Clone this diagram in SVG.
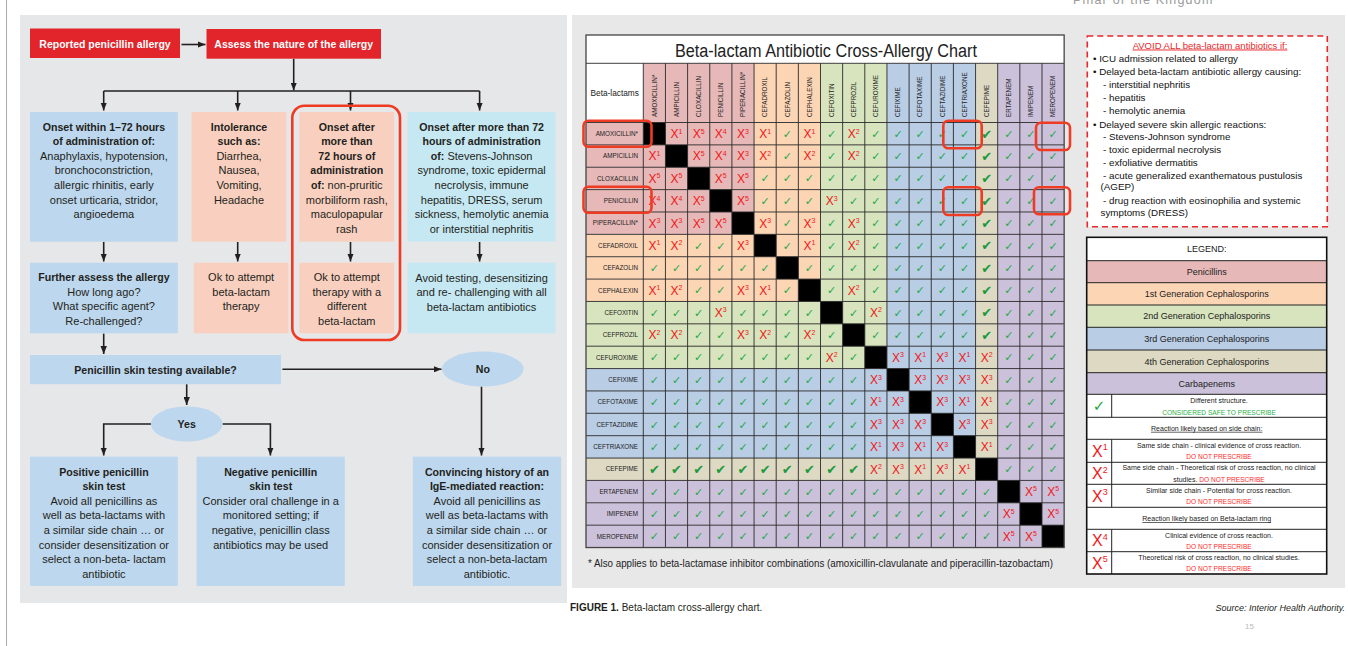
<svg xmlns="http://www.w3.org/2000/svg" width="1348" height="646" viewBox="0 0 1348 646">
<defs>
<marker id="ah" viewBox="0 0 10 8" refX="10" refY="4" markerWidth="8" markerHeight="6.4" markerUnits="userSpaceOnUse" orient="auto"><path d="M0,0 L10,4 L0,8 z" fill="#231f20"/></marker>
<style>
.ft{font-family:"Liberation Sans",Arial,sans-serif;font-size:11px;fill:#231f20;text-anchor:middle}
.b{font-weight:bold;font-size:10.6px}
.wt{font-family:"Liberation Sans",Arial,sans-serif;font-size:10.5px;font-weight:bold;fill:#fff;text-anchor:middle}
.bl{fill:#bdd7ee}.pe{fill:#f9d0bf}.cy{fill:#c6e8f2}.rd{fill:#e1252b}
.cn{fill:none;stroke:#231f20;stroke-width:1.6}
.hl{fill:none;stroke:#ef3b24;stroke-width:2.6}
.p{fill:#e6b9b8}.c1{fill:#fcd5b5}.c2{fill:#d7e4bd}.c3{fill:#b9cde5}.c4{fill:#ddd9c3}.cb{fill:#ccc1da}
.lab{font-family:"Liberation Sans",Arial,sans-serif;font-size:6.3px;fill:#222}
.rl{text-anchor:end}
.ck{font-family:"DejaVu Sans",sans-serif;font-size:11px;fill:#22a84a;text-anchor:middle}
.ck2{font-family:"DejaVu Sans",sans-serif;font-size:13px;fill:#1b9a3d;text-anchor:middle}
.xx{font-family:"Liberation Sans",Arial,sans-serif;font-size:12px;fill:#f01818;text-anchor:middle}
.s{font-size:7px}
.av{font-family:"Liberation Sans",Arial,sans-serif;font-size:9.8px;fill:#111}
.lg{font-family:"Liberation Sans",Arial,sans-serif;font-size:9px;fill:#222;text-anchor:middle}
.sm{font-family:"Liberation Sans",Arial,sans-serif;font-size:7px;fill:#222;text-anchor:middle}
.dn{fill:#ff2a2a;font-size:6.6px}
.lx{font-family:"Liberation Sans",Arial,sans-serif;font-size:16px;fill:#f01818}
</style>
</defs>
<rect width="1348" height="646" fill="#fff"/>
<line x1="6.5" y1="0" x2="6.5" y2="646" stroke="#aaa" stroke-width="1"/>
<text x="1073" y="3.5" font-family="Liberation Sans, Arial, sans-serif" font-size="12.5" letter-spacing="1.2" fill="#9a9a9a">Pillar of the Kingdom</text>

<!-- LEFT PANEL -->
<rect x="20" y="15" width="547" height="588" fill="#e6e7e8"/>

<g id="connectors" class="cn">
<line x1="181.5" y1="44.5" x2="205.5" y2="44.5" marker-end="url(#ah)"/>
<line x1="293.7" y1="58.7" x2="293.7" y2="90.5" marker-end="url(#ah)"/>
<line x1="103.7" y1="91" x2="479.6" y2="91"/>
<line x1="103.7" y1="91" x2="103.7" y2="110.5" marker-end="url(#ah)"/>
<line x1="237.7" y1="91" x2="237.7" y2="110.5" marker-end="url(#ah)"/>
<line x1="350.5" y1="91" x2="350.5" y2="110.5" marker-end="url(#ah)"/>
<line x1="479.6" y1="91" x2="479.6" y2="110.5" marker-end="url(#ah)"/>
<line x1="103.7" y1="242" x2="103.7" y2="261.5" marker-end="url(#ah)"/>
<line x1="237.7" y1="242" x2="237.7" y2="261.5" marker-end="url(#ah)"/>
<line x1="350.5" y1="242" x2="350.5" y2="261.5" marker-end="url(#ah)"/>
<line x1="479.6" y1="242" x2="479.6" y2="261.5" marker-end="url(#ah)"/>
<line x1="103.7" y1="333.5" x2="103.7" y2="354" marker-end="url(#ah)"/>
<line x1="282.4" y1="369.3" x2="441.5" y2="369.3" marker-end="url(#ah)"/>
<line x1="186.7" y1="384.2" x2="186.7" y2="405" marker-end="url(#ah)"/>
<line x1="481.5" y1="386.5" x2="481.5" y2="455.5" marker-end="url(#ah)"/>
<path d="M151,424 H103.7 V455.5" marker-end="url(#ah)"/>
<path d="M222.5,424 H270.4 V455.5" marker-end="url(#ah)"/>
</g>

<g id="n-reported"><rect class="rd" x="30" y="28.5" width="150" height="29.5"/><text class="wt" x="105" y="47.8">Reported penicillin allergy</text></g>
<g id="n-assess"><rect class="rd" x="206.5" y="29" width="174.5" height="29.7"/><text class="wt" x="293.7" y="47.8">Assess the nature of the allergy</text></g>

<g id="n-onset-early"><rect class="bl" x="30" y="112" width="147.8" height="129.7"/>
<text class="ft"><tspan class="b" x="103.9" y="130.5">Onset within 1–72 hours</tspan><tspan class="b" x="103.9" y="145.1">of administration of:</tspan><tspan x="103.9" y="159.7">Anaphylaxis, hypotension,</tspan><tspan x="103.9" y="174.3">bronchoconstriction,</tspan><tspan x="103.9" y="188.9">allergic rhinitis, early</tspan><tspan x="103.9" y="203.5">onset urticaria, stridor,</tspan><tspan x="103.9" y="218.1">angioedema</tspan></text></g>

<g id="n-intolerance"><rect class="pe" x="191.6" y="112" width="94.7" height="129.7"/>
<text class="ft"><tspan class="b" x="239" y="130.5">Intolerance</tspan><tspan class="b" x="239" y="145.1">such as:</tspan><tspan x="239" y="159.7">Diarrhea,</tspan><tspan x="239" y="174.3">Nausea,</tspan><tspan x="239" y="188.9">Vomiting,</tspan><tspan x="239" y="203.5">Headache</tspan></text></g>

<g id="n-onset-72"><rect class="pe" x="299.4" y="112" width="94.7" height="129.7"/>
<text class="ft"><tspan class="b" x="346.8" y="130.5">Onset after</tspan><tspan class="b" x="346.8" y="145.1">more than</tspan><tspan class="b" x="346.8" y="159.7">72 hours of</tspan><tspan class="b" x="346.8" y="174.3">administration</tspan><tspan x="346.8" y="188.9"><tspan class="b">of:</tspan> non-pruritic</tspan><tspan x="346.8" y="203.5">morbiliform rash,</tspan><tspan x="346.8" y="218.1">maculopapular</tspan><tspan x="346.8" y="232.7">rash</tspan></text></g>

<g id="n-onset-severe"><rect class="cy" x="407.6" y="112" width="147.9" height="129.7"/>
<text class="ft"><tspan class="b" x="481.6" y="130.5">Onset after more than 72</tspan><tspan class="b" x="481.6" y="145.1">hours of administration</tspan><tspan x="481.6" y="159.7"><tspan class="b">of:</tspan> Stevens-Johnson</tspan><tspan x="481.6" y="174.3">syndrome, toxic epidermal</tspan><tspan x="481.6" y="188.9">necrolysis, immune</tspan><tspan x="481.6" y="203.5">hepatitis, DRESS, serum</tspan><tspan x="481.6" y="218.1">sickness, hemolytic anemia</tspan><tspan x="481.6" y="232.7">or interstitial nephritis</tspan></text></g>

<g id="n-further"><rect class="bl" x="30" y="262.7" width="147.8" height="70.6"/>
<text class="ft"><tspan class="b" x="103.9" y="281.1">Further assess the allergy</tspan><tspan x="103.9" y="295.7">How long ago?</tspan><tspan x="103.9" y="310.3">What specific agent?</tspan><tspan x="103.9" y="324.9">Re-challenged?</tspan></text></g>

<g id="n-ok1"><rect class="pe" x="193.8" y="262.7" width="94.6" height="70.6"/>
<text class="ft"><tspan x="241.1" y="281.1">Ok to attempt</tspan><tspan x="241.1" y="295.7">beta-lactam</tspan><tspan x="241.1" y="310.3">therapy</tspan></text></g>

<g id="n-ok2"><rect class="pe" x="299.4" y="262.7" width="94.7" height="70.6"/>
<text class="ft"><tspan x="346.8" y="281.1">Ok to attempt</tspan><tspan x="346.8" y="295.7">therapy with a</tspan><tspan x="346.8" y="310.3">different</tspan><tspan x="346.8" y="324.9">beta-lactam</tspan></text></g>

<g id="n-avoid"><rect class="cy" x="407.6" y="262.7" width="147.9" height="70.6"/>
<text class="ft"><tspan x="481.6" y="281.8">Avoid testing, desensitizing</tspan><tspan x="481.6" y="296.4">and re- challenging with all</tspan><tspan x="481.6" y="311">beta-lactam antibiotics</tspan></text></g>

<rect class="hl" x="292.3" y="105.7" width="107.7" height="234.3" rx="12"/>

<g id="n-skintest"><rect class="bl" x="30" y="355" width="251" height="29.2"/><text class="ft b" x="155.5" y="374.4">Penicillin skin testing available?</text></g>
<g id="n-no"><ellipse class="bl" cx="482.8" cy="369" rx="40.8" ry="17.5"/><text class="ft b" x="482.8" y="372.8">No</text></g>
<g id="n-yes"><ellipse class="bl" cx="186.7" cy="424" rx="35.8" ry="17.5"/><text class="ft b" x="186.7" y="427.8">Yes</text></g>

<g id="n-positive"><rect class="bl" x="30" y="456.7" width="147.8" height="129.3"/>
<text class="ft"><tspan class="b" x="103.9" y="475.5">Positive penicillin</tspan><tspan class="b" x="103.9" y="490.1">skin test</tspan><tspan x="103.9" y="504.7">Avoid all penicillins as</tspan><tspan x="103.9" y="519.3">well as beta-lactams with</tspan><tspan x="103.9" y="533.9">a similar side chain … or</tspan><tspan x="103.9" y="548.5">consider desensitization or</tspan><tspan x="103.9" y="563.1">select a non-beta- lactam</tspan><tspan x="103.9" y="577.7">antibiotic</tspan></text></g>

<g id="n-negative"><rect class="bl" x="196.6" y="456.7" width="148.2" height="129.3"/>
<text class="ft"><tspan class="b" x="270.7" y="475.5">Negative penicillin</tspan><tspan class="b" x="270.7" y="490.1">skin test</tspan><tspan x="270.7" y="504.7">Consider oral challenge in a</tspan><tspan x="270.7" y="519.3">monitored setting; if</tspan><tspan x="270.7" y="533.9">negative, penicillin class</tspan><tspan x="270.7" y="548.5">antibiotics may be used</tspan></text></g>

<g id="n-convincing"><rect class="bl" x="412.9" y="456.7" width="148.2" height="129.3"/>
<text class="ft"><tspan class="b" x="487" y="475.5">Convincing history of an</tspan><tspan class="b" x="487" y="490.1">IgE-mediated reaction:</tspan><tspan x="487" y="504.7">Avoid all penicillins as</tspan><tspan x="487" y="519.3">well as beta-lactams with</tspan><tspan x="487" y="533.9">a similar side chain … or</tspan><tspan x="487" y="548.5">consider desensitization or</tspan><tspan x="487" y="563.1">select a non-beta-lactam</tspan><tspan x="487" y="577.7">antibiotic.</tspan></text></g>

<!-- RIGHT PANEL -->
<rect x="572" y="15" width="773" height="573" fill="#e8e8e9"/>

<g id="chart">
<rect x="586" y="35" width="478.15" height="512.53" fill="#fff"/>
<text x="675" y="56.8" font-family="Liberation Sans, Arial, sans-serif" font-size="18" fill="#222" textLength="302" lengthAdjust="spacingAndGlyphs">Beta-lactam Antibiotic Cross-Allergy Chart</text>
<rect class="p" x="643.3" y="63.3" width="110.75" height="484.23"/>
<rect class="c1" x="754.05" y="63.3" width="66.45" height="484.23"/>
<rect class="c2" x="820.5" y="63.3" width="66.45" height="484.23"/>
<rect class="c3" x="886.95" y="63.3" width="88.6" height="484.23"/>
<rect class="c4" x="975.55" y="63.3" width="22.15" height="484.23"/>
<rect class="cb" x="997.7" y="63.3" width="66.45" height="484.23"/>
<g>
<rect class="p" x="586" y="122.5" width="57.3" height="22.37"/>
<rect class="p" x="586" y="144.87" width="79.45" height="22.37"/>
<rect class="p" x="586" y="167.24" width="101.6" height="22.37"/>
<rect class="p" x="586" y="189.61" width="123.75" height="22.37"/>
<rect class="p" x="586" y="211.98" width="145.9" height="22.37"/>
<rect class="c1" x="586" y="234.35" width="168.05" height="22.37"/>
<rect class="c1" x="586" y="256.72" width="190.2" height="22.37"/>
<rect class="c1" x="586" y="279.09" width="212.35" height="22.37"/>
<rect class="c2" x="586" y="301.46" width="234.5" height="22.37"/>
<rect class="c2" x="586" y="323.83" width="256.65" height="22.37"/>
<rect class="c2" x="586" y="346.2" width="278.8" height="22.37"/>
<rect class="c3" x="586" y="368.57" width="300.95" height="22.37"/>
<rect class="c3" x="586" y="390.94" width="323.1" height="22.37"/>
<rect class="c3" x="586" y="413.31" width="345.25" height="22.37"/>
<rect class="c3" x="586" y="435.68" width="367.4" height="22.37"/>
<rect class="c4" x="586" y="458.05" width="389.55" height="22.37"/>
<rect class="cb" x="586" y="480.42" width="411.7" height="22.37"/>
<rect class="cb" x="586" y="502.79" width="433.85" height="22.37"/>
<rect class="cb" x="586" y="525.16" width="456" height="22.37"/>
</g>
<g fill="#000">
<rect x="643.3" y="122.5" width="22.15" height="22.37"/>
<rect x="665.45" y="144.87" width="22.15" height="22.37"/>
<rect x="687.6" y="167.24" width="22.15" height="22.37"/>
<rect x="709.75" y="189.61" width="22.15" height="22.37"/>
<rect x="731.9" y="211.98" width="22.15" height="22.37"/>
<rect x="754.05" y="234.35" width="22.15" height="22.37"/>
<rect x="776.2" y="256.72" width="22.15" height="22.37"/>
<rect x="798.35" y="279.09" width="22.15" height="22.37"/>
<rect x="820.5" y="301.46" width="22.15" height="22.37"/>
<rect x="842.65" y="323.83" width="22.15" height="22.37"/>
<rect x="864.8" y="346.2" width="22.15" height="22.37"/>
<rect x="886.95" y="368.57" width="22.15" height="22.37"/>
<rect x="909.1" y="390.94" width="22.15" height="22.37"/>
<rect x="931.25" y="413.31" width="22.15" height="22.37"/>
<rect x="953.4" y="435.68" width="22.15" height="22.37"/>
<rect x="975.55" y="458.05" width="22.15" height="22.37"/>
<rect x="997.7" y="480.42" width="22.15" height="22.37"/>
<rect x="1019.85" y="502.79" width="22.15" height="22.37"/>
<rect x="1042" y="525.16" width="22.15" height="22.37"/>
</g>
<path fill="none" stroke="#2a2a2a" stroke-width="0.9" d="M586,63.3H1064.15 M586,122.5H1064.15 M586,144.87H1064.15 M586,167.24H1064.15 M586,189.61H1064.15 M586,211.98H1064.15 M586,234.35H1064.15 M586,256.72H1064.15 M586,279.09H1064.15 M586,301.46H1064.15 M586,323.83H1064.15 M586,346.2H1064.15 M586,368.57H1064.15 M586,390.94H1064.15 M586,413.31H1064.15 M586,435.68H1064.15 M586,458.05H1064.15 M586,480.42H1064.15 M586,502.79H1064.15 M586,525.16H1064.15 M643.3,63.3V547.53 M665.45,63.3V547.53 M687.6,63.3V547.53 M709.75,63.3V547.53 M731.9,63.3V547.53 M754.05,63.3V547.53 M776.2,63.3V547.53 M798.35,63.3V547.53 M820.5,63.3V547.53 M842.65,63.3V547.53 M864.8,63.3V547.53 M886.95,63.3V547.53 M909.1,63.3V547.53 M931.25,63.3V547.53 M953.4,63.3V547.53 M975.55,63.3V547.53 M997.7,63.3V547.53 M1019.85,63.3V547.53 M1042,63.3V547.53"/>
<rect x="586" y="35" width="478.15" height="512.53" fill="none" stroke="#444" stroke-width="1.3"/>
<text x="614.7" y="96.3" font-family="Liberation Sans, Arial, sans-serif" font-size="8.3" fill="#222" text-anchor="middle">Beta-lactams</text>
<g class="lab">
<text transform="rotate(-90 656.6 117)" x="656.6" y="117">AMOXICILLIN*</text>
<text transform="rotate(-90 678.7 117)" x="678.7" y="117">AMPICILLIN</text>
<text transform="rotate(-90 700.9 117)" x="700.9" y="117">CLOXACILLIN</text>
<text transform="rotate(-90 723 117)" x="723" y="117">PENICILLIN</text>
<text transform="rotate(-90 745.2 117)" x="745.2" y="117">PIPERACILLIN*</text>
<text transform="rotate(-90 767.3 117)" x="767.3" y="117">CEFADROXIL</text>
<text transform="rotate(-90 789.5 117)" x="789.5" y="117">CEFAZOLIN</text>
<text transform="rotate(-90 811.6 117)" x="811.6" y="117">CEPHALEXIN</text>
<text transform="rotate(-90 833.8 117)" x="833.8" y="117">CEFOXITIN</text>
<text transform="rotate(-90 855.9 117)" x="855.9" y="117">CEFPROZIL</text>
<text transform="rotate(-90 878.1 117)" x="878.1" y="117">CEFUROXIME</text>
<text transform="rotate(-90 900.2 117)" x="900.2" y="117">CEFIXIME</text>
<text transform="rotate(-90 922.4 117)" x="922.4" y="117">CEFOTAXIME</text>
<text transform="rotate(-90 944.5 117)" x="944.5" y="117">CEFTAZIDIME</text>
<text transform="rotate(-90 966.7 117)" x="966.7" y="117">CEFTRIAXONE</text>
<text transform="rotate(-90 988.8 117)" x="988.8" y="117">CEFEPIME</text>
<text transform="rotate(-90 1011 117)" x="1011" y="117">ERTAPENEM</text>
<text transform="rotate(-90 1033.1 117)" x="1033.1" y="117">IMIPENEM</text>
<text transform="rotate(-90 1055.3 117)" x="1055.3" y="117">MEROPENEM</text>
</g>
<g class="lab rl">
<text x="638" y="135.9">AMOXICILLIN*</text>
<text x="638" y="158.3">AMPICILLIN</text>
<text x="638" y="180.6">CLOXACILLIN</text>
<text x="638" y="203">PENICILLIN</text>
<text x="638" y="225.4">PIPERACILLIN*</text>
<text x="638" y="247.7">CEFADROXIL</text>
<text x="638" y="270.1">CEFAZOLIN</text>
<text x="638" y="292.5">CEPHALEXIN</text>
<text x="638" y="314.8">CEFOXITIN</text>
<text x="638" y="337.2">CEFPROZIL</text>
<text x="638" y="359.6">CEFUROXIME</text>
<text x="638" y="382">CEFIXIME</text>
<text x="638" y="404.3">CEFOTAXIME</text>
<text x="638" y="426.7">CEFTAZIDIME</text>
<text x="638" y="449.1">CEFTRIAXONE</text>
<text x="638" y="471.4">CEFEPIME</text>
<text x="638" y="493.8">ERTAPENEM</text>
<text x="638" y="516.2">IMIPENEM</text>
<text x="638" y="538.5">MEROPENEM</text>
</g>
<g class="ck">
<text x="787.3" y="137.7">✓</text><text x="831.6" y="137.7">✓</text><text x="875.9 898 920.2 942.3 964.5" y="137.7">✓✓✓✓✓</text><text x="1008.8 1030.9 1053.1" y="137.7">✓✓✓</text>
<text x="787.3" y="160.1">✓</text><text x="831.6" y="160.1">✓</text><text x="875.9 898 920.2 942.3 964.5" y="160.1">✓✓✓✓✓</text><text x="1008.8 1030.9 1053.1" y="160.1">✓✓✓</text>
<text x="765.1 787.3 809.4 831.6 853.7 875.9 898 920.2 942.3 964.5" y="182.4">✓✓✓✓✓✓✓✓✓✓</text><text x="1008.8 1030.9 1053.1" y="182.4">✓✓✓</text>
<text x="765.1 787.3 809.4" y="204.8">✓✓✓</text><text x="853.7 875.9 898 920.2 942.3 964.5" y="204.8">✓✓✓✓✓✓</text><text x="1008.8 1030.9 1053.1" y="204.8">✓✓✓</text>
<text x="787.3" y="227.2">✓</text><text x="831.6" y="227.2">✓</text><text x="875.9 898 920.2 942.3 964.5" y="227.2">✓✓✓✓✓</text><text x="1008.8 1030.9 1053.1" y="227.2">✓✓✓</text>
<text x="698.7 720.8" y="249.5">✓✓</text><text x="787.3" y="249.5">✓</text><text x="831.6" y="249.5">✓</text><text x="875.9 898 920.2 942.3 964.5" y="249.5">✓✓✓✓✓</text><text x="1008.8 1030.9 1053.1" y="249.5">✓✓✓</text>
<text x="654.4 676.5 698.7 720.8 743 765.1" y="271.9">✓✓✓✓✓✓</text><text x="809.4 831.6 853.7 875.9 898 920.2 942.3 964.5" y="271.9">✓✓✓✓✓✓✓✓</text><text x="1008.8 1030.9 1053.1" y="271.9">✓✓✓</text>
<text x="698.7 720.8" y="294.3">✓✓</text><text x="787.3" y="294.3">✓</text><text x="831.6" y="294.3">✓</text><text x="875.9 898 920.2 942.3 964.5" y="294.3">✓✓✓✓✓</text><text x="1008.8 1030.9 1053.1" y="294.3">✓✓✓</text>
<text x="654.4 676.5 698.7" y="316.6">✓✓✓</text><text x="743 765.1 787.3 809.4" y="316.6">✓✓✓✓</text><text x="853.7" y="316.6">✓</text><text x="898 920.2 942.3 964.5" y="316.6">✓✓✓✓</text><text x="1008.8 1030.9 1053.1" y="316.6">✓✓✓</text>
<text x="698.7 720.8" y="339">✓✓</text><text x="787.3" y="339">✓</text><text x="831.6" y="339">✓</text><text x="875.9 898 920.2 942.3 964.5" y="339">✓✓✓✓✓</text><text x="1008.8 1030.9 1053.1" y="339">✓✓✓</text>
<text x="654.4 676.5 698.7 720.8 743 765.1 787.3 809.4" y="361.4">✓✓✓✓✓✓✓✓</text><text x="853.7" y="361.4">✓</text><text x="1008.8 1030.9 1053.1" y="361.4">✓✓✓</text>
<text x="654.4 676.5 698.7 720.8 743 765.1 787.3 809.4 831.6 853.7" y="383.8">✓✓✓✓✓✓✓✓✓✓</text><text x="1008.8 1030.9 1053.1" y="383.8">✓✓✓</text>
<text x="654.4 676.5 698.7 720.8 743 765.1 787.3 809.4 831.6 853.7" y="406.1">✓✓✓✓✓✓✓✓✓✓</text><text x="1008.8 1030.9 1053.1" y="406.1">✓✓✓</text>
<text x="654.4 676.5 698.7 720.8 743 765.1 787.3 809.4 831.6 853.7" y="428.5">✓✓✓✓✓✓✓✓✓✓</text><text x="1008.8 1030.9 1053.1" y="428.5">✓✓✓</text>
<text x="654.4 676.5 698.7 720.8 743 765.1 787.3 809.4 831.6 853.7" y="450.9">✓✓✓✓✓✓✓✓✓✓</text><text x="1008.8 1030.9 1053.1" y="450.9">✓✓✓</text>
<text x="1008.8 1030.9 1053.1" y="473.2">✓✓✓</text>
<text x="654.4 676.5 698.7 720.8 743 765.1 787.3 809.4 831.6 853.7 875.9 898 920.2 942.3 964.5 986.6" y="495.6">✓✓✓✓✓✓✓✓✓✓✓✓✓✓✓✓</text>
<text x="654.4 676.5 698.7 720.8 743 765.1 787.3 809.4 831.6 853.7 875.9 898 920.2 942.3 964.5 986.6" y="518">✓✓✓✓✓✓✓✓✓✓✓✓✓✓✓✓</text>
<text x="654.4 676.5 698.7 720.8 743 765.1 787.3 809.4 831.6 853.7 875.9 898 920.2 942.3 964.5 986.6" y="540.3">✓✓✓✓✓✓✓✓✓✓✓✓✓✓✓✓</text>
</g>
<g class="ck2">
<text x="986.6" y="138.5">✔</text><text x="986.6" y="160.9">✔</text><text x="986.6" y="183.2">✔</text><text x="986.6" y="205.6">✔</text><text x="986.6" y="228">✔</text><text x="986.6" y="250.3">✔</text><text x="986.6" y="272.7">✔</text><text x="986.6" y="295.1">✔</text><text x="986.6" y="317.4">✔</text><text x="986.6" y="339.8">✔</text>
<text x="654.4 676.5 698.7 720.8 743 765.1 787.3 809.4 831.6 853.7" y="474">✔✔✔✔✔✔✔✔✔✔</text>
</g>
<g class="xx">
<text x="676.5" y="138">X<tspan class="s" dy="-4.5">1</tspan></text>
<text x="698.7" y="138">X<tspan class="s" dy="-4.5">5</tspan></text>
<text x="720.8" y="138">X<tspan class="s" dy="-4.5">4</tspan></text>
<text x="743" y="138">X<tspan class="s" dy="-4.5">3</tspan></text>
<text x="765.1" y="138">X<tspan class="s" dy="-4.5">1</tspan></text>
<text x="809.4" y="138">X<tspan class="s" dy="-4.5">1</tspan></text>
<text x="853.7" y="138">X<tspan class="s" dy="-4.5">2</tspan></text>
<text x="654.4" y="160.4">X<tspan class="s" dy="-4.5">1</tspan></text>
<text x="698.7" y="160.4">X<tspan class="s" dy="-4.5">5</tspan></text>
<text x="720.8" y="160.4">X<tspan class="s" dy="-4.5">4</tspan></text>
<text x="743" y="160.4">X<tspan class="s" dy="-4.5">3</tspan></text>
<text x="765.1" y="160.4">X<tspan class="s" dy="-4.5">2</tspan></text>
<text x="809.4" y="160.4">X<tspan class="s" dy="-4.5">2</tspan></text>
<text x="853.7" y="160.4">X<tspan class="s" dy="-4.5">2</tspan></text>
<text x="654.4" y="182.7">X<tspan class="s" dy="-4.5">5</tspan></text>
<text x="676.5" y="182.7">X<tspan class="s" dy="-4.5">5</tspan></text>
<text x="720.8" y="182.7">X<tspan class="s" dy="-4.5">5</tspan></text>
<text x="743" y="182.7">X<tspan class="s" dy="-4.5">5</tspan></text>
<text x="654.4" y="205.1">X<tspan class="s" dy="-4.5">4</tspan></text>
<text x="676.5" y="205.1">X<tspan class="s" dy="-4.5">4</tspan></text>
<text x="698.7" y="205.1">X<tspan class="s" dy="-4.5">5</tspan></text>
<text x="743" y="205.1">X<tspan class="s" dy="-4.5">5</tspan></text>
<text x="831.6" y="205.1">X<tspan class="s" dy="-4.5">3</tspan></text>
<text x="654.4" y="227.5">X<tspan class="s" dy="-4.5">3</tspan></text>
<text x="676.5" y="227.5">X<tspan class="s" dy="-4.5">3</tspan></text>
<text x="698.7" y="227.5">X<tspan class="s" dy="-4.5">5</tspan></text>
<text x="720.8" y="227.5">X<tspan class="s" dy="-4.5">5</tspan></text>
<text x="765.1" y="227.5">X<tspan class="s" dy="-4.5">3</tspan></text>
<text x="809.4" y="227.5">X<tspan class="s" dy="-4.5">3</tspan></text>
<text x="853.7" y="227.5">X<tspan class="s" dy="-4.5">3</tspan></text>
<text x="654.4" y="249.8">X<tspan class="s" dy="-4.5">1</tspan></text>
<text x="676.5" y="249.8">X<tspan class="s" dy="-4.5">2</tspan></text>
<text x="743" y="249.8">X<tspan class="s" dy="-4.5">3</tspan></text>
<text x="809.4" y="249.8">X<tspan class="s" dy="-4.5">1</tspan></text>
<text x="853.7" y="249.8">X<tspan class="s" dy="-4.5">2</tspan></text>
<text x="654.4" y="294.6">X<tspan class="s" dy="-4.5">1</tspan></text>
<text x="676.5" y="294.6">X<tspan class="s" dy="-4.5">2</tspan></text>
<text x="743" y="294.6">X<tspan class="s" dy="-4.5">3</tspan></text>
<text x="765.1" y="294.6">X<tspan class="s" dy="-4.5">1</tspan></text>
<text x="853.7" y="294.6">X<tspan class="s" dy="-4.5">2</tspan></text>
<text x="720.8" y="316.9">X<tspan class="s" dy="-4.5">3</tspan></text>
<text x="875.9" y="316.9">X<tspan class="s" dy="-4.5">2</tspan></text>
<text x="654.4" y="339.3">X<tspan class="s" dy="-4.5">2</tspan></text>
<text x="676.5" y="339.3">X<tspan class="s" dy="-4.5">2</tspan></text>
<text x="743" y="339.3">X<tspan class="s" dy="-4.5">3</tspan></text>
<text x="765.1" y="339.3">X<tspan class="s" dy="-4.5">2</tspan></text>
<text x="809.4" y="339.3">X<tspan class="s" dy="-4.5">2</tspan></text>
<text x="831.6" y="361.7">X<tspan class="s" dy="-4.5">2</tspan></text>
<text x="898" y="361.7">X<tspan class="s" dy="-4.5">3</tspan></text>
<text x="920.2" y="361.7">X<tspan class="s" dy="-4.5">1</tspan></text>
<text x="942.3" y="361.7">X<tspan class="s" dy="-4.5">3</tspan></text>
<text x="964.5" y="361.7">X<tspan class="s" dy="-4.5">1</tspan></text>
<text x="986.6" y="361.7">X<tspan class="s" dy="-4.5">2</tspan></text>
<text x="875.9" y="384.1">X<tspan class="s" dy="-4.5">3</tspan></text>
<text x="920.2" y="384.1">X<tspan class="s" dy="-4.5">3</tspan></text>
<text x="942.3" y="384.1">X<tspan class="s" dy="-4.5">3</tspan></text>
<text x="964.5" y="384.1">X<tspan class="s" dy="-4.5">3</tspan></text>
<text x="986.6" y="384.1">X<tspan class="s" dy="-4.5">3</tspan></text>
<text x="875.9" y="406.4">X<tspan class="s" dy="-4.5">1</tspan></text>
<text x="898" y="406.4">X<tspan class="s" dy="-4.5">3</tspan></text>
<text x="942.3" y="406.4">X<tspan class="s" dy="-4.5">3</tspan></text>
<text x="964.5" y="406.4">X<tspan class="s" dy="-4.5">1</tspan></text>
<text x="986.6" y="406.4">X<tspan class="s" dy="-4.5">1</tspan></text>
<text x="875.9" y="428.8">X<tspan class="s" dy="-4.5">3</tspan></text>
<text x="898" y="428.8">X<tspan class="s" dy="-4.5">3</tspan></text>
<text x="920.2" y="428.8">X<tspan class="s" dy="-4.5">3</tspan></text>
<text x="964.5" y="428.8">X<tspan class="s" dy="-4.5">3</tspan></text>
<text x="986.6" y="428.8">X<tspan class="s" dy="-4.5">3</tspan></text>
<text x="875.9" y="451.2">X<tspan class="s" dy="-4.5">1</tspan></text>
<text x="898" y="451.2">X<tspan class="s" dy="-4.5">3</tspan></text>
<text x="920.2" y="451.2">X<tspan class="s" dy="-4.5">1</tspan></text>
<text x="942.3" y="451.2">X<tspan class="s" dy="-4.5">3</tspan></text>
<text x="986.6" y="451.2">X<tspan class="s" dy="-4.5">1</tspan></text>
<text x="875.9" y="473.5">X<tspan class="s" dy="-4.5">2</tspan></text>
<text x="898" y="473.5">X<tspan class="s" dy="-4.5">3</tspan></text>
<text x="920.2" y="473.5">X<tspan class="s" dy="-4.5">1</tspan></text>
<text x="942.3" y="473.5">X<tspan class="s" dy="-4.5">3</tspan></text>
<text x="964.5" y="473.5">X<tspan class="s" dy="-4.5">1</tspan></text>
<text x="1030.9" y="495.9">X<tspan class="s" dy="-4.5">5</tspan></text>
<text x="1053.1" y="495.9">X<tspan class="s" dy="-4.5">5</tspan></text>
<text x="1008.8" y="518.3">X<tspan class="s" dy="-4.5">5</tspan></text>
<text x="1053.1" y="518.3">X<tspan class="s" dy="-4.5">5</tspan></text>
<text x="1008.8" y="540.6">X<tspan class="s" dy="-4.5">5</tspan></text>
<text x="1030.9" y="540.6">X<tspan class="s" dy="-4.5">5</tspan></text>
</g>
<g class="hl">
<rect x="583.5" y="120.7" width="68" height="26" rx="5"/>
<rect x="583.5" y="186.7" width="68" height="26" rx="5"/>
<rect x="943.3" y="120.7" width="38.4" height="27.6" rx="5"/>
<rect x="1036" y="122.7" width="34" height="27.3" rx="5"/>
<rect x="943.3" y="187.3" width="38.4" height="27.7" rx="5"/>
<rect x="1034" y="187.3" width="36" height="27" rx="5"/>
</g>
<text x="588" y="566.5" font-family="Liberation Sans, Arial, sans-serif" font-size="10" fill="#222" textLength="465" lengthAdjust="spacingAndGlyphs">* Also applies to beta-lactamase inhibitor combinations (amoxicillin-clavulanate and piperacillin-tazobactam)</text>
</g>

<g id="avoid-box">
<rect x="1087.3" y="36" width="240" height="190.7" fill="#fff" stroke="#e8262a" stroke-width="1.6" stroke-dasharray="6 4"/>
<text x="1210" y="48.5" font-family="Liberation Sans, Arial, sans-serif" font-size="9.5" fill="#e8262a" text-anchor="middle" text-decoration="underline">AVOID ALL beta-lactam antibiotics if:</text>
<text class="av"><tspan x="1093" y="61.8">• ICU admission related to allergy</tspan><tspan x="1093" y="75.2">• Delayed beta-lactam antibiotic allergy causing:</tspan><tspan x="1103" y="87.8">- interstitial nephritis</tspan><tspan x="1103" y="100.8">- hepatitis</tspan><tspan x="1103" y="113.5">- hemolytic anemia</tspan><tspan x="1093" y="127.5">• Delayed severe skin allergic reactions:</tspan><tspan x="1103" y="140.2">- Stevens-Johnson syndrome</tspan><tspan x="1103" y="152.5">- toxic epidermal necrolysis</tspan><tspan x="1103" y="165.8">- exfoliative dermatitis</tspan><tspan x="1103" y="178.5">- acute generalized exanthematous pustulosis</tspan><tspan x="1100.5" y="190.2">(AGEP)</tspan><tspan x="1103" y="204.2">- drug reaction with eosinophilia and systemic</tspan><tspan x="1100.5" y="216.2">symptoms (DRESS)</tspan></text>
</g>

<g id="legend">
<rect x="1086.7" y="237.3" width="240" height="336.7" fill="#fff"/>
<rect class="p" x="1086.7" y="260.7" width="240" height="22"/>
<rect class="c1" x="1086.7" y="282.7" width="240" height="22.3"/>
<rect class="c2" x="1086.7" y="305" width="240" height="22.3"/>
<rect class="c3" x="1086.7" y="327.3" width="240" height="22.7"/>
<rect class="c4" x="1086.7" y="350" width="240" height="22.7"/>
<rect class="cb" x="1086.7" y="372.7" width="240" height="21.6"/>
<path fill="none" stroke="#222" stroke-width="1" d="M1086.7,260.7H1326.7 M1086.7,282.7H1326.7 M1086.7,305H1326.7 M1086.7,327.3H1326.7 M1086.7,350H1326.7 M1086.7,372.7H1326.7 M1086.7,394.3H1326.7 M1086.7,417.3H1326.7 M1086.7,439.3H1326.7 M1086.7,462.3H1326.7 M1086.7,484.3H1326.7 M1086.7,507.3H1326.7 M1086.7,529.3H1326.7 M1086.7,551.7H1326.7 M1111.7,394.3V417.3 M1111.7,439.3V507.3 M1111.7,529.3V574"/>
<rect x="1086.7" y="237.3" width="240" height="336.7" fill="none" stroke="#111" stroke-width="1.6"/>
<text class="lg" x="1206.7" y="252">LEGEND:</text>
<text class="lg" x="1206.7" y="274.9">Penicillins</text>
<text class="lg" x="1206.7" y="297">1st Generation Cephalosporins</text>
<text class="lg" x="1206.7" y="319.3">2nd Generation Cephalosporins</text>
<text class="lg" x="1206.7" y="341.8">3rd Generation Cephalosporins</text>
<text class="lg" x="1206.7" y="364.5">4th Generation Cephalosporins</text>
<text class="lg" x="1206.7" y="386.7">Carbapenems</text>
<text x="1099" y="411" font-family="DejaVu Sans, sans-serif" font-size="15" fill="#22a84a" text-anchor="middle">✓</text>
<text class="sm" x="1219" y="403.2">Different structure.</text>
<text class="sm" x="1219" y="414.5" style="fill:#2bb04a;font-size:6.6px">CONSIDERED SAFE TO PRESCRIBE</text>
<text class="sm" x="1206.7" y="430.8" text-decoration="underline">Reaction likely based on side chain:</text>
<text class="lx" x="1092" y="456.5">X<tspan font-size="9" dy="-6.5">1</tspan></text>
<text class="sm" x="1219" y="447.5">Same side chain - clinical evidence of cross reaction.</text>
<text class="sm dn" x="1219" y="458.5">DO NOT PRESCRIBE</text>
<text class="lx" x="1092" y="479">X<tspan font-size="9" dy="-6.5">2</tspan></text>
<text class="sm" x="1219" y="469.8">Same side chain - Theoretical risk of cross reaction, no clinical</text>
<text class="sm" x="1219" y="481.5">studies. <tspan class="dn">DO NOT PRESCRIBE</tspan></text>
<text class="lx" x="1092" y="501.5">X<tspan font-size="9" dy="-6.5">3</tspan></text>
<text class="sm" x="1219" y="492.5">Similar side chain - Potential for cross reaction.</text>
<text class="sm dn" x="1219" y="503.5">DO NOT PRESCRIBE</text>
<text class="sm" x="1206.7" y="521" text-decoration="underline">Reaction likely based on Beta-lactam ring</text>
<text class="lx" x="1092" y="546.2">X<tspan font-size="9" dy="-6.5">4</tspan></text>
<text class="sm" x="1219" y="537.8">Clinical evidence of cross reaction.</text>
<text class="sm dn" x="1219" y="549.2">DO NOT PRESCRIBE</text>
<text class="lx" x="1092" y="568.5">X<tspan font-size="9" dy="-6.5">5</tspan></text>
<text class="sm" x="1219" y="559.8">Theoretical risk of cross reaction, no clinical studies.</text>
<text class="sm dn" x="1219" y="570.8">DO NOT PRESCRIBE</text>
</g>

<text x="570" y="611" font-family="Liberation Sans, Arial, sans-serif" font-size="10" fill="#231f20"><tspan font-weight="bold">FIGURE 1.</tspan> Beta-lactam cross-allergy chart.</text>
<text x="1345" y="611" font-family="Liberation Sans, Arial, sans-serif" font-size="9" font-style="italic" fill="#231f20" text-anchor="end">Source: Interior Health Authority.</text>
<text x="1245" y="629" font-family="Liberation Sans, Arial, sans-serif" font-size="8" fill="#bbb">15</text>
</svg>
